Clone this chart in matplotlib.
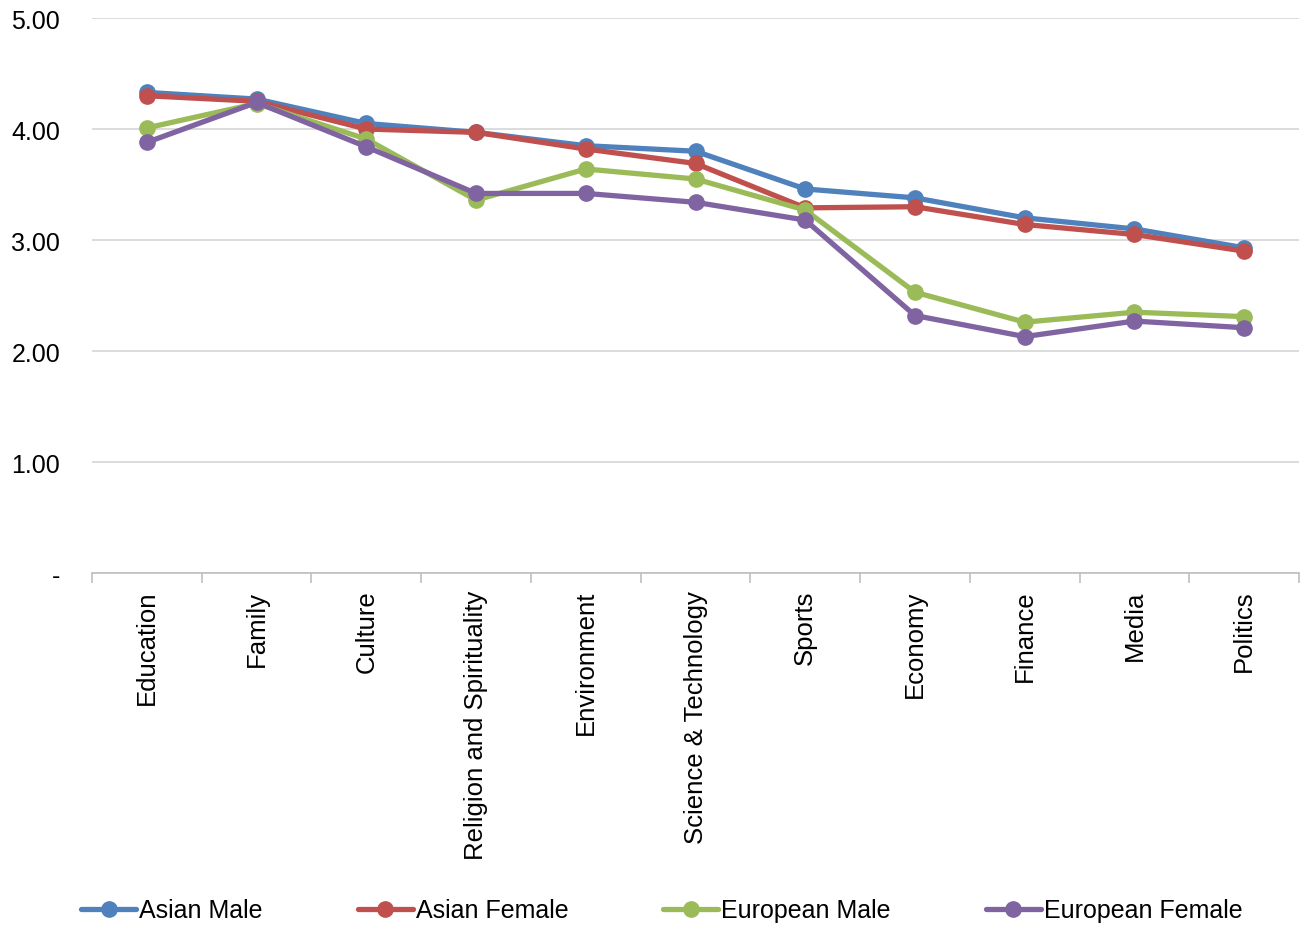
import numpy as np
import matplotlib.pyplot as plt
from matplotlib.ticker import FixedLocator

# Categories and mean scores
categories = ["Education", "Family", "Culture", "Religion and Spirituality",
              "Environment", "Science & Technology", "Sports", "Economy",
              "Finance", "Media", "Politics"]
asian_male = [4.33, 4.27, 4.05, 3.97, 3.85, 3.80, 3.46, 3.38, 3.20, 3.10, 2.93]
asian_female = [4.30, 4.25, 4.00, 3.97, 3.82, 3.69, 3.29, 3.30, 3.14, 3.05, 2.90]
european_male = [4.01, 4.23, 3.91, 3.36, 3.64, 3.55, 3.27, 2.53, 2.26, 2.35, 2.31]
european_female = [3.88, 4.24, 3.84, 3.42, 3.42, 3.34, 3.18, 2.32, 2.13, 2.27, 2.21]

series = [("Asian Male", asian_male, "#4F81BD"),
          ("Asian Female", asian_female, "#C0504D"),
          ("European Male", european_male, "#9BBB59"),
          ("European Female", european_female, "#8064A2")]

plt.rcParams['font.family'] = ['Liberation Sans', 'DejaVu Sans']

fig = plt.figure(figsize=(13.01, 9.29), dpi=100)
ax = fig.add_axes([0.0707, 0.3821, 0.9278, 0.5974])

x = np.arange(len(categories))
for name, vals, col in series:
    ax.plot(x, vals, color=col, lw=3.8, marker="o", ms=11, label=name,
            solid_capstyle="round")

ax.set_ylim(0, 5)
ax.set_xlim(-0.5, len(categories) - 0.5)
ax.set_yticks([0, 1, 2, 3, 4, 5])
ax.set_yticklabels(["-", "1.00", "2.00", "3.00", "4.00", "5.00"], fontsize=18)
ax.yaxis.grid(True, color="#D9D9D9", lw=1.3)
ax.set_axisbelow(True)

ax.set_xticks(x)
ax.set_xticklabels(categories, rotation=90, fontsize=18.5, va="top")
ax.tick_params(axis="x", which="major", length=0, pad=12)
ax.xaxis.set_minor_locator(FixedLocator(np.arange(-0.5, len(categories), 1)))
ax.tick_params(axis="x", which="minor", length=7, color="#BFBFBF", width=1.2)
ax.tick_params(axis="y", length=0, pad=23)

for s in ["top", "right", "left"]:
    ax.spines[s].set_visible(False)
ax.spines["bottom"].set_color("#BFBFBF")
ax.spines["bottom"].set_linewidth(1.2)

fig.legend(loc="center left", bbox_to_anchor=(0.049, 0.019), ncol=4,
           frameon=False, fontsize=18, handlelength=2.2, handletextpad=0.12,
           columnspacing=3.8, borderpad=0.2)

fig.savefig("out.png", dpi=100)
